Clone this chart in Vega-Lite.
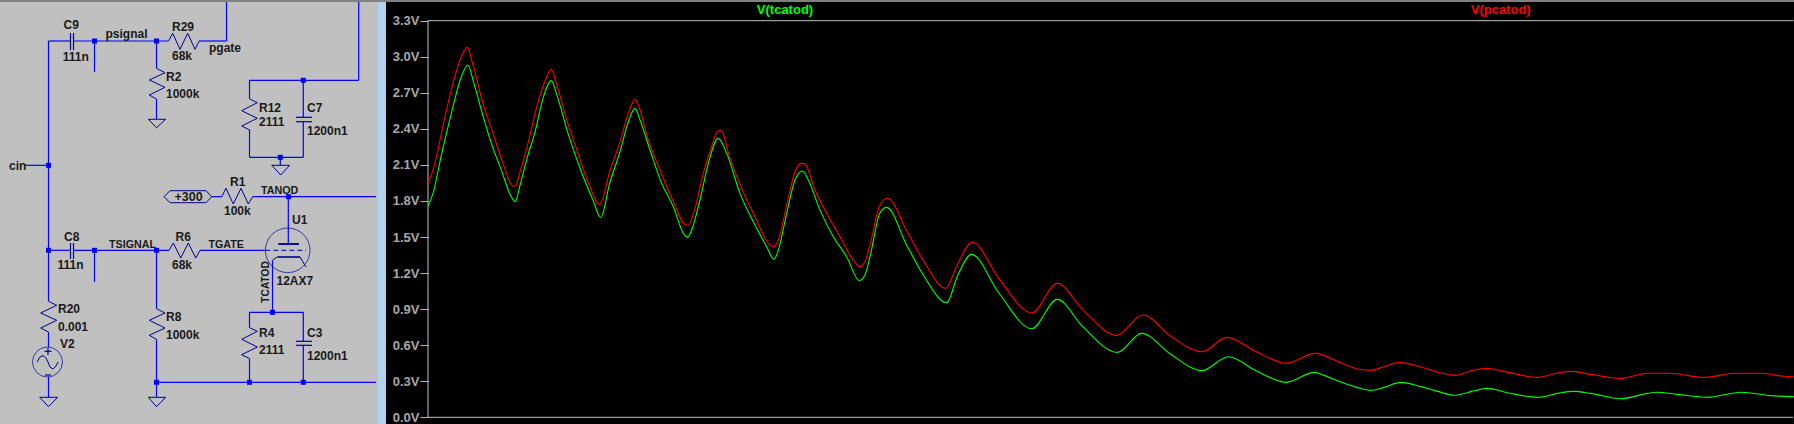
{
"$schema":"https://vega.github.io/schema/vega-lite/v6.json",
"background":"#000000",
"padding":0,
"spacing":0,
"resolve":{"scale":{"color":"independent"}},
"config":{"view":{"stroke":null},"text":{"font":"Liberation Sans"}},
"datasets":{
"wires":[
{"x":48.5,"y":41,"x2":48.5,"y2":301,"k":"wire"},
{"x":48.5,"y":41,"x2":70,"y2":41,"k":"wire"},
{"x":73.5,"y":41,"x2":168,"y2":41,"k":"wire"},
{"x":199,"y":41,"x2":226.5,"y2":41,"k":"wire"},
{"x":226.5,"y":41,"x2":226.5,"y2":2,"k":"wire"},
{"x":94.5,"y":41,"x2":94.5,"y2":72,"k":"wire"},
{"x":156.5,"y":41,"x2":156.5,"y2":68,"k":"wire"},
{"x":156.5,"y":99,"x2":156.5,"y2":119,"k":"wire"},
{"x":249.5,"y":80.3,"x2":358.7,"y2":80.3,"k":"wire"},
{"x":358.7,"y":80.3,"x2":358.7,"y2":2,"k":"wire"},
{"x":249.5,"y":80.3,"x2":249.5,"y2":99,"k":"wire"},
{"x":249.5,"y":130,"x2":249.5,"y2":157.3,"k":"wire"},
{"x":249.5,"y":157.3,"x2":303.3,"y2":157.3,"k":"wire"},
{"x":303.3,"y":80.3,"x2":303.3,"y2":117.3,"k":"wire"},
{"x":303.3,"y":121.7,"x2":303.3,"y2":157.3,"k":"wire"},
{"x":280.3,"y":157.3,"x2":280.3,"y2":165,"k":"wire"},
{"x":25,"y":165.3,"x2":48.5,"y2":165.3,"k":"wire"},
{"x":211.7,"y":196.7,"x2":222,"y2":196.7,"k":"wire"},
{"x":252.7,"y":196.7,"x2":376,"y2":196.7,"k":"wire"},
{"x":288.3,"y":196.7,"x2":288.3,"y2":243.7,"k":"wire"},
{"x":48.5,"y":250.3,"x2":70,"y2":250.3,"k":"wire"},
{"x":74,"y":250.3,"x2":169,"y2":250.3,"k":"wire"},
{"x":200,"y":250.3,"x2":265.3,"y2":250.3,"k":"wire"},
{"x":94.5,"y":250.3,"x2":94.5,"y2":282,"k":"wire"},
{"x":156.5,"y":250.3,"x2":156.5,"y2":308.7,"k":"wire"},
{"x":156.5,"y":339.3,"x2":156.5,"y2":397.3,"k":"wire"},
{"x":48.5,"y":332,"x2":48.5,"y2":347,"k":"wire"},
{"x":48.5,"y":377,"x2":48.5,"y2":397.3,"k":"wire"},
{"x":156.5,"y":382.3,"x2":376,"y2":382.3,"k":"wire"},
{"x":249.5,"y":312.3,"x2":303.3,"y2":312.3,"k":"wire"},
{"x":249.5,"y":312.3,"x2":249.5,"y2":327.7,"k":"wire"},
{"x":249.5,"y":358.7,"x2":249.5,"y2":382.3,"k":"wire"},
{"x":303.3,"y":312.3,"x2":303.3,"y2":341.3,"k":"wire"},
{"x":303.3,"y":345.3,"x2":303.3,"y2":382.3,"k":"wire"},
{"x":272.5,"y":312.3,"x2":272.5,"y2":260.3,"k":"wire"},
{"x":70.5,"y":33,"x2":70.5,"y2":50,"k":"part"},
{"x":73.5,"y":33,"x2":73.5,"y2":50,"k":"part"},
{"x":70.5,"y":243,"x2":70.5,"y2":259,"k":"part"},
{"x":73.5,"y":243,"x2":73.5,"y2":259,"k":"part"},
{"x":296,"y":117.3,"x2":312,"y2":117.3,"k":"part"},
{"x":296,"y":121.7,"x2":312,"y2":121.7,"k":"part"},
{"x":296,"y":341.3,"x2":312,"y2":341.3,"k":"part"},
{"x":296,"y":345.3,"x2":312,"y2":345.3,"k":"part"},
{"x":278.3,"y":243.7,"x2":299,"y2":243.7,"k":"part"},
{"x":278.3,"y":244.3,"x2":299,"y2":244.3,"k":"part"},
{"x":278,"y":257,"x2":300,"y2":257,"k":"part"},
{"x":44.5,"y":351.3,"x2":51.5,"y2":351.3,"k":"part"},
{"x":48,"y":348,"x2":48,"y2":355,"k":"part"},
{"x":45,"y":375,"x2":51,"y2":375,"k":"part"}
],
"parts":[
{"id":"R29","i":0,"x":168.3,"y":41.3},{"id":"R29","i":1,"x":172.7,"y":33.3},{"id":"R29","i":2,"x":180,"y":49.3},{"id":"R29","i":3,"x":187.7,"y":33.3},{"id":"R29","i":4,"x":195,"y":49.3},{"id":"R29","i":5,"x":199,"y":41.3},
{"id":"R2","i":0,"x":156.5,"y":68.3},{"id":"R2","i":1,"x":165,"y":72.7},{"id":"R2","i":2,"x":149.3,"y":80},{"id":"R2","i":3,"x":165,"y":87.3},{"id":"R2","i":4,"x":149.3,"y":95},{"id":"R2","i":5,"x":156.5,"y":99},
{"id":"R12","i":0,"x":249.7,"y":99},{"id":"R12","i":1,"x":257.3,"y":102.7},{"id":"R12","i":2,"x":241.7,"y":110.7},{"id":"R12","i":3,"x":257.3,"y":118.3},{"id":"R12","i":4,"x":241.7,"y":126},{"id":"R12","i":5,"x":249.7,"y":130},
{"id":"R1","i":0,"x":221.7,"y":196.7},{"id":"R1","i":1,"x":226,"y":188.3},{"id":"R1","i":2,"x":233.3,"y":204},{"id":"R1","i":3,"x":241,"y":188.3},{"id":"R1","i":4,"x":248.3,"y":204},{"id":"R1","i":5,"x":252.7,"y":196.7},
{"id":"R6","i":0,"x":169,"y":250.3},{"id":"R6","i":1,"x":173.3,"y":243},{"id":"R6","i":2,"x":180.7,"y":258},{"id":"R6","i":3,"x":188.3,"y":243},{"id":"R6","i":4,"x":195.7,"y":258},{"id":"R6","i":5,"x":200,"y":250.3},
{"id":"R8","i":0,"x":156.5,"y":308.7},{"id":"R8","i":1,"x":165,"y":313},{"id":"R8","i":2,"x":149.3,"y":320.3},{"id":"R8","i":3,"x":165,"y":328},{"id":"R8","i":4,"x":149.3,"y":335.3},{"id":"R8","i":5,"x":156.5,"y":339.3},
{"id":"R20","i":0,"x":48.5,"y":301.3},{"id":"R20","i":1,"x":56.7,"y":305.3},{"id":"R20","i":2,"x":40.7,"y":313},{"id":"R20","i":3,"x":56.7,"y":320.3},{"id":"R20","i":4,"x":40.7,"y":328},{"id":"R20","i":5,"x":48.5,"y":332},
{"id":"R4","i":0,"x":249.7,"y":327.7},{"id":"R4","i":1,"x":257.3,"y":331.3},{"id":"R4","i":2,"x":241.7,"y":339.3},{"id":"R4","i":3,"x":257.3,"y":347},{"id":"R4","i":4,"x":241.7,"y":354.7},{"id":"R4","i":5,"x":249.7,"y":358.7},
{"id":"G1","i":0,"x":148.3,"y":119.3},{"id":"G1","i":1,"x":165.7,"y":119.3},{"id":"G1","i":2,"x":156.5,"y":127.7},{"id":"G1","i":3,"x":148.3,"y":119.3},
{"id":"G2","i":0,"x":271.7,"y":165.3},{"id":"G2","i":1,"x":289.7,"y":165.3},{"id":"G2","i":2,"x":280.7,"y":175},{"id":"G2","i":3,"x":271.7,"y":165.3},
{"id":"G3","i":0,"x":148.3,"y":397.3},{"id":"G3","i":1,"x":165.7,"y":397.3},{"id":"G3","i":2,"x":156.5,"y":406.7},{"id":"G3","i":3,"x":148.3,"y":397.3},
{"id":"G4","i":0,"x":39.7,"y":397.3},{"id":"G4","i":1,"x":57.7,"y":397.3},{"id":"G4","i":2,"x":48.5,"y":406.7},{"id":"G4","i":3,"x":39.7,"y":397.3},
{"id":"P300","i":0,"x":164,"y":196.7},{"id":"P300","i":1,"x":170,"y":190.7},{"id":"P300","i":2,"x":206,"y":190.7},{"id":"P300","i":3,"x":211.7,"y":196.7},{"id":"P300","i":4,"x":206,"y":202.7},{"id":"P300","i":5,"x":170,"y":202.7},{"id":"P300","i":6,"x":164,"y":196.7},
{"id":"SIN","i":0,"x":37,"y":362},{"id":"SIN","i":1,"x":40,"y":357},{"id":"SIN","i":2,"x":43,"y":355.5},{"id":"SIN","i":3,"x":46,"y":358},{"id":"SIN","i":4,"x":48,"y":362},{"id":"SIN","i":5,"x":50,"y":367},{"id":"SIN","i":6,"x":53,"y":369},{"id":"SIN","i":7,"x":56,"y":366},{"id":"SIN","i":8,"x":58,"y":362},
{"id":"CATH","i":0,"x":272.5,"y":260.3},{"id":"CATH","i":1,"x":277,"y":257},{"id":"CATH","i":2,"x":300,"y":257},{"id":"CATH","i":3,"x":306,"y":267}
],
"junctions":[{"x":94.5,"y":41},{"x":156.5,"y":41},{"x":303.3,"y":80.3},{"x":280.3,"y":157.3},{"x":48.5,"y":165.3},{"x":288.5,"y":196.7},{"x":48.5,"y":250.3},{"x":94.5,"y":250.3},{"x":156.5,"y":250.3},{"x":272.5,"y":312.3},{"x":156.5,"y":382.3},{"x":249.5,"y":382.3},{"x":303.3,"y":382.3}],
"labels":[
{"x":63.5,"y":29,"t":"C9"},{"x":62.7,"y":61,"t":"111n"},{"x":105.5,"y":38,"t":"psignal"},{"x":172,"y":31,"t":"R29"},{"x":172,"y":60,"t":"68k"},{"x":209,"y":51.7,"t":"pgate"},{"x":166,"y":81,"t":"R2"},{"x":166,"y":98,"t":"1000k"},{"x":259,"y":112,"t":"R12"},{"x":259,"y":126,"t":"2111"},{"x":307,"y":112,"t":"C7"},{"x":307,"y":135,"t":"1200n1"},{"x":9,"y":170,"t":"cin"},{"x":230,"y":186,"t":"R1"},{"x":224,"y":214.7,"t":"100k"},{"x":292,"y":223.7,"t":"U1"},{"x":276.5,"y":285.3,"t":"12AX7"},{"x":64,"y":241,"t":"C8"},{"x":57.5,"y":268.7,"t":"111n"},{"x":175.5,"y":241,"t":"R6"},{"x":172,"y":268.7,"t":"68k"},{"x":58,"y":313,"t":"R20"},{"x":58,"y":331,"t":"0.001"},{"x":60,"y":348,"t":"V2"},{"x":166,"y":321,"t":"R8"},{"x":166,"y":338.7,"t":"1000k"},{"x":259,"y":337,"t":"R4"},{"x":259,"y":353.7,"t":"2111"},{"x":307,"y":337,"t":"C3"},{"x":307,"y":359.7,"t":"1200n1"}],
"nets":[{"x":261,"y":194,"t":"TANOD"},{"x":109,"y":247.7,"t":"TSIGNAL"},{"x":208.5,"y":247.7,"t":"TGATE"}],
"traces":[
{"s":"pcatod","t":0,"v":1.946},{"s":"pcatod","t":0.06,"v":2.057},{"s":"pcatod","t":0.198,"v":2.487},{"s":"pcatod","t":0.298,"v":2.78},{"s":"pcatod","t":0.397,"v":3.0},{"s":"pcatod","t":0.468,"v":3.078},{"s":"pcatod","t":0.536,"v":2.93},{"s":"pcatod","t":0.655,"v":2.612},{"s":"pcatod","t":0.774,"v":2.362},{"s":"pcatod","t":0.893,"v":2.113},{"s":"pcatod","t":1.012,"v":1.924},{"s":"pcatod","t":1.04,"v":1.924},{"s":"pcatod","t":1.091,"v":2.03},{"s":"pcatod","t":1.19,"v":2.279},{"s":"pcatod","t":1.29,"v":2.57},{"s":"pcatod","t":1.389,"v":2.792},{"s":"pcatod","t":1.468,"v":2.895},{"s":"pcatod","t":1.528,"v":2.78},{"s":"pcatod","t":1.647,"v":2.487},{"s":"pcatod","t":1.766,"v":2.237},{"s":"pcatod","t":1.905,"v":1.96},{"s":"pcatod","t":2.044,"v":1.771},{"s":"pcatod","t":2.163,"v":2.043},{"s":"pcatod","t":2.286,"v":2.293},{"s":"pcatod","t":2.385,"v":2.529},{"s":"pcatod","t":2.465,"v":2.645},{"s":"pcatod","t":2.504,"v":2.598},{"s":"pcatod","t":2.623,"v":2.307},{"s":"pcatod","t":2.762,"v":2.057},{"s":"pcatod","t":2.921,"v":1.794},{"s":"pcatod","t":3.071,"v":1.6},{"s":"pcatod","t":3.1,"v":1.6},{"s":"pcatod","t":3.179,"v":1.738},{"s":"pcatod","t":3.278,"v":2.03},{"s":"pcatod","t":3.377,"v":2.251},{"s":"pcatod","t":3.456,"v":2.385},{"s":"pcatod","t":3.488,"v":2.385},{"s":"pcatod","t":3.595,"v":2.154},{"s":"pcatod","t":3.734,"v":1.905},{"s":"pcatod","t":3.893,"v":1.669},{"s":"pcatod","t":4.052,"v":1.447},{"s":"pcatod","t":4.111,"v":1.419},{"s":"pcatod","t":4.171,"v":1.475},{"s":"pcatod","t":4.27,"v":1.766},{"s":"pcatod","t":4.369,"v":2.043},{"s":"pcatod","t":4.448,"v":2.113},{"s":"pcatod","t":4.488,"v":2.107},{"s":"pcatod","t":4.607,"v":1.891},{"s":"pcatod","t":4.746,"v":1.697},{"s":"pcatod","t":4.905,"v":1.502},{"s":"pcatod","t":5.063,"v":1.308},{"s":"pcatod","t":5.135,"v":1.253},{"s":"pcatod","t":5.202,"v":1.294},{"s":"pcatod","t":5.262,"v":1.433},{"s":"pcatod","t":5.38,"v":1.766},{"s":"pcatod","t":5.472,"v":1.822},{"s":"pcatod","t":5.7,"v":1.55},{"s":"pcatod","t":5.9,"v":1.3},{"s":"pcatod","t":6.163,"v":1.073},{"s":"pcatod","t":6.3,"v":1.27},{"s":"pcatod","t":6.48,"v":1.456},{"s":"pcatod","t":6.8,"v":1.15},{"s":"pcatod","t":7.187,"v":0.868},{"s":"pcatod","t":7.49,"v":1.114},{"s":"pcatod","t":7.8,"v":0.89},{"s":"pcatod","t":8.2,"v":0.682},{"s":"pcatod","t":8.508,"v":0.851},{"s":"pcatod","t":8.85,"v":0.67},{"s":"pcatod","t":9.22,"v":0.546},{"s":"pcatod","t":9.508,"v":0.665},{"s":"pcatod","t":9.85,"v":0.55},{"s":"pcatod","t":10.22,"v":0.449},{"s":"pcatod","t":10.56,"v":0.532},{"s":"pcatod","t":10.865,"v":0.454},{"s":"pcatod","t":11.06,"v":0.402},{"s":"pcatod","t":11.22,"v":0.391},{"s":"pcatod","t":11.38,"v":0.421},{"s":"pcatod","t":11.56,"v":0.457},{"s":"pcatod","t":11.78,"v":0.427},{"s":"pcatod","t":12.02,"v":0.374},{"s":"pcatod","t":12.23,"v":0.349},{"s":"pcatod","t":12.41,"v":0.385},{"s":"pcatod","t":12.6,"v":0.407},{"s":"pcatod","t":12.81,"v":0.382},{"s":"pcatod","t":13.21,"v":0.332},{"s":"pcatod","t":13.445,"v":0.368},{"s":"pcatod","t":13.62,"v":0.382},{"s":"pcatod","t":13.84,"v":0.357},{"s":"pcatod","t":14.2,"v":0.324},{"s":"pcatod","t":14.52,"v":0.366},{"s":"pcatod","t":14.79,"v":0.366},{"s":"pcatod","t":15.19,"v":0.332},{"s":"pcatod","t":15.55,"v":0.366},{"s":"pcatod","t":15.87,"v":0.366},{"s":"pcatod","t":16.14,"v":0.341},{"s":"pcatod","t":16.26,"v":0.338},
{"s":"tcatod","t":0,"v":1.758},{"s":"tcatod","t":0.06,"v":1.863},{"s":"tcatod","t":0.159,"v":2.182},{"s":"tcatod","t":0.278,"v":2.529},{"s":"tcatod","t":0.397,"v":2.834},{"s":"tcatod","t":0.476,"v":2.931},{"s":"tcatod","t":0.536,"v":2.806},{"s":"tcatod","t":0.635,"v":2.556},{"s":"tcatod","t":0.754,"v":2.279},{"s":"tcatod","t":0.873,"v":2.057},{"s":"tcatod","t":0.992,"v":1.835},{"s":"tcatod","t":1.04,"v":1.794},{"s":"tcatod","t":1.091,"v":1.918},{"s":"tcatod","t":1.19,"v":2.182},{"s":"tcatod","t":1.27,"v":2.362},{"s":"tcatod","t":1.369,"v":2.654},{"s":"tcatod","t":1.468,"v":2.801},{"s":"tcatod","t":1.528,"v":2.695},{"s":"tcatod","t":1.667,"v":2.362},{"s":"tcatod","t":1.825,"v":2.043},{"s":"tcatod","t":1.964,"v":1.807},{"s":"tcatod","t":2.056,"v":1.663},{"s":"tcatod","t":2.163,"v":1.946},{"s":"tcatod","t":2.286,"v":2.21},{"s":"tcatod","t":2.385,"v":2.459},{"s":"tcatod","t":2.465,"v":2.57},{"s":"tcatod","t":2.524,"v":2.473},{"s":"tcatod","t":2.643,"v":2.224},{"s":"tcatod","t":2.782,"v":1.946},{"s":"tcatod","t":2.921,"v":1.752},{"s":"tcatod","t":3.04,"v":1.53},{"s":"tcatod","t":3.091,"v":1.497},{"s":"tcatod","t":3.139,"v":1.558},{"s":"tcatod","t":3.238,"v":1.808},{"s":"tcatod","t":3.337,"v":2.113},{"s":"tcatod","t":3.456,"v":2.321},{"s":"tcatod","t":3.556,"v":2.196},{"s":"tcatod","t":3.714,"v":1.863},{"s":"tcatod","t":3.873,"v":1.627},{"s":"tcatod","t":4.032,"v":1.419},{"s":"tcatod","t":4.119,"v":1.314},{"s":"tcatod","t":4.171,"v":1.391},{"s":"tcatod","t":4.27,"v":1.697},{"s":"tcatod","t":4.369,"v":1.974},{"s":"tcatod","t":4.46,"v":2.049},{"s":"tcatod","t":4.528,"v":1.974},{"s":"tcatod","t":4.667,"v":1.724},{"s":"tcatod","t":4.825,"v":1.502},{"s":"tcatod","t":4.984,"v":1.336},{"s":"tcatod","t":5.135,"v":1.136},{"s":"tcatod","t":5.202,"v":1.183},{"s":"tcatod","t":5.262,"v":1.336},{"s":"tcatod","t":5.38,"v":1.7},{"s":"tcatod","t":5.46,"v":1.747},{"s":"tcatod","t":5.7,"v":1.43},{"s":"tcatod","t":5.9,"v":1.18},{"s":"tcatod","t":6.175,"v":0.954},{"s":"tcatod","t":6.3,"v":1.17},{"s":"tcatod","t":6.47,"v":1.356},{"s":"tcatod","t":6.8,"v":1.03},{"s":"tcatod","t":7.187,"v":0.737},{"s":"tcatod","t":7.49,"v":0.981},{"s":"tcatod","t":7.8,"v":0.75},{"s":"tcatod","t":8.207,"v":0.54},{"s":"tcatod","t":8.496,"v":0.698},{"s":"tcatod","t":8.85,"v":0.52},{"s":"tcatod","t":9.21,"v":0.388},{"s":"tcatod","t":9.53,"v":0.504},{"s":"tcatod","t":9.85,"v":0.39},{"s":"tcatod","t":10.22,"v":0.291},{"s":"tcatod","t":10.55,"v":0.374},{"s":"tcatod","t":10.667,"v":0.349},{"s":"tcatod","t":10.865,"v":0.294},{"s":"tcatod","t":11.06,"v":0.249},{"s":"tcatod","t":11.22,"v":0.224},{"s":"tcatod","t":11.38,"v":0.249},{"s":"tcatod","t":11.58,"v":0.291},{"s":"tcatod","t":11.82,"v":0.255},{"s":"tcatod","t":12.02,"v":0.216},{"s":"tcatod","t":12.21,"v":0.183},{"s":"tcatod","t":12.37,"v":0.205},{"s":"tcatod","t":12.61,"v":0.241},{"s":"tcatod","t":12.85,"v":0.205},{"s":"tcatod","t":13.21,"v":0.166},{"s":"tcatod","t":13.445,"v":0.199},{"s":"tcatod","t":13.64,"v":0.216},{"s":"tcatod","t":13.84,"v":0.199},{"s":"tcatod","t":14.2,"v":0.155},{"s":"tcatod","t":14.52,"v":0.199},{"s":"tcatod","t":14.63,"v":0.208},{"s":"tcatod","t":14.87,"v":0.191},{"s":"tcatod","t":15.23,"v":0.166},{"s":"tcatod","t":15.63,"v":0.208},{"s":"tcatod","t":15.98,"v":0.18},{"s":"tcatod","t":16.26,"v":0.172}
]
},
"hconcat":[
{
"width":386,"height":424,
"view":{"fill":"#c0c0c0","stroke":null},
"encoding":{
"x":{"field":"x","type":"quantitative","axis":null,"scale":{"domain":[0,386],"nice":false,"zero":false}},
"y":{"field":"y","type":"quantitative","axis":null,"scale":{"domain":[424,0],"nice":false,"zero":false}}
},
"layer":[
{"data":{"name":"wires"},"mark":{"type":"rule","strokeWidth":1.2},
"encoding":{"x2":{"field":"x2"},"y2":{"field":"y2"},
"color":{"field":"k","type":"nominal","legend":null,"scale":{"domain":["wire","part"],"range":["#0000ff","#000090"]}}}},
{"data":{"name":"parts"},"mark":{"type":"line","color":"#000090","strokeWidth":1,"clip":false},
"encoding":{"detail":{"field":"id"},"order":{"field":"i","type":"quantitative"}}},
{"data":{"values":[{"x":287.7,"y":250.3,"d":"U1"}]},"mark":{"type":"point","shape":"circle","size":1990,"color":"#000090","strokeWidth":1,"filled":false}},
{"data":{"values":[{"x":47.5,"y":362,"d":"V2"}]},"mark":{"type":"point","shape":"circle","size":900,"color":"#000090","strokeWidth":1,"filled":false}},
{"data":{"values":[{"x":265.3,"y":250.3,"x2":306,"y2":250.3}]},"mark":{"type":"rule","color":"#000090","strokeWidth":1,"strokeDash":[5,3]},"encoding":{"x2":{"field":"x2"},"y2":{"field":"y2"}}},
{"data":{"name":"junctions"},"mark":{"type":"point","shape":"square","size":25,"filled":true,"color":"#0000ff","opacity":1}},
{"data":{"name":"labels"},"mark":{"type":"text","align":"left","baseline":"alphabetic","font":"Liberation Sans","fontWeight":"bold","fontSize":12,"color":"#1a1a1a"},"encoding":{"text":{"field":"t"}}},
{"data":{"name":"nets"},"mark":{"type":"text","align":"left","baseline":"alphabetic","font":"Liberation Sans","fontWeight":"bold","fontSize":10.7,"color":"#1a1a1a"},"encoding":{"text":{"field":"t"}}},
{"data":{"values":[{"x":174.5,"y":201,"t":"+300"}]},"mark":{"type":"text","align":"left","baseline":"alphabetic","font":"Liberation Sans","fontWeight":"bold","fontSize":12.5,"color":"#1a1a1a"},"encoding":{"text":{"field":"t"}}},
{"data":{"values":[{"x":268.7,"y":302.7,"t":"TCATOD"}]},"mark":{"type":"text","align":"left","baseline":"alphabetic","angle":270,"font":"Liberation Sans","fontWeight":"bold","fontSize":10.2,"color":"#1a1a1a"},"encoding":{"text":{"field":"t"}}},
{"data":{"values":[{"x":378,"x2":386,"y":0,"y2":424}]},"mark":{"type":"rect","color":"#aed4f2"},"encoding":{"x2":{"field":"x2"},"y2":{"field":"y2"}}},
{"data":{"values":[{"x":0,"y":0,"x2":386,"y2":2}]},"mark":{"type":"rect","color":"#808080"},"encoding":{"x2":{"field":"x2"},"y2":{"field":"y2"}}}
]
},
{
"width":1366,"height":424,
"view":{"fill":"#000000","stroke":null},
"encoding":{
"x":{"field":"t","type":"quantitative","axis":null,"scale":{"domain":[0,16.262],"nice":false,"zero":false}},
"y":{"field":"v","type":"quantitative","scale":{"domain":[-0.0557,3.472],"nice":false,"zero":false},
"axis":{"title":null,"values":[0,0.3,0.6,0.9,1.2,1.5,1.8,2.1,2.4,2.7,3.0,3.3],"format":".1f","labelExpr":"datum.label + 'V'","grid":false,"domain":false,"tickColor":"#b8b8b8","tickSize":8,"tickWidth":1,"labelPadding":1,"labelColor":"#a8a8a8","labelFont":"Liberation Sans","labelFontWeight":"bold","labelFontSize":13,"labelOverlap":false,"labelBound":false,"labelFlush":false,"minExtent":42,"maxExtent":42}}
},
"layer":[
{"data":{"values":[{"t":0,"v":0,"v2":3.3}]},"mark":{"type":"rule","color":"#c0c0c0","strokeWidth":1},"encoding":{"y2":{"field":"v2"}}},
{"data":{"values":[{"t":0,"t2":16.25,"v":3.3},{"t":0,"t2":16.25,"v":0}]},"mark":{"type":"rule","color":"#c0c0c0","strokeWidth":1},"encoding":{"x2":{"field":"t2"}}},
{"data":{"name":"traces"},"mark":{"type":"line","interpolate":"monotone","strokeWidth":1.1},
"encoding":{"color":{"field":"s","type":"nominal","legend":null,"scale":{"domain":["tcatod","pcatod"],"range":["#00ff00","#ff0000"]}},"detail":{"field":"s"},"order":{"field":"t","type":"quantitative"}}},
{"data":{"values":[{"t":4.25,"v":3.385,"c":"V(tcatod)"}]},"mark":{"type":"text","align":"center","baseline":"middle","font":"Liberation Sans","fontWeight":"bold","fontSize":13,"color":"#00ff00"},"encoding":{"text":{"field":"c"}}},
{"data":{"values":[{"t":12.77,"v":3.39,"c":"V(pcatod)"}]},"mark":{"type":"text","align":"center","baseline":"middle","font":"Liberation Sans","fontWeight":"bold","fontSize":13,"color":"#ff0000"},"encoding":{"text":{"field":"c"}}},
{"data":{"values":[{"t":-0.5,"t2":16.262,"v":3.4554,"v2":3.472}]},"mark":{"type":"rect","color":"#808080"},"encoding":{"x2":{"field":"t2"},"y2":{"field":"v2"}}}
]
}
]
}
